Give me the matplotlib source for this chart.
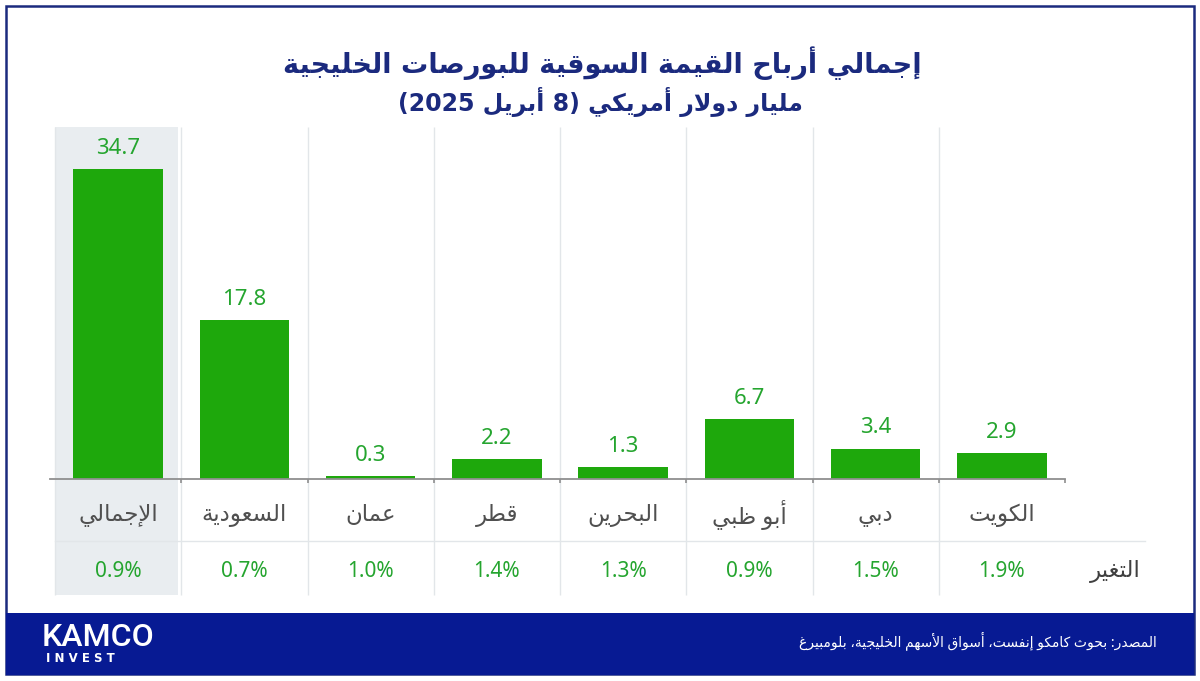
import re
import numpy as np
import matplotlib.pyplot as plt
from matplotlib.patches import Rectangle

# بيانات الرسم
countries = ["الإجمالي", "السعودية", "عمان", "قطر", "البحرين", "أبو ظبي", "دبي", "الكويت"]
profits = [34.7, 17.8, 0.3, 2.2, 1.3, 6.7, 3.4, 2.9]
changes = ["0.9%", "0.7%", "1.0%", "1.4%", "1.3%", "0.9%", "1.5%", "1.9%"]
title = "إجمالي أرباح القيمة السوقية للبورصات الخليجية"
subtitle = "مليار دولار أمريكي (8 أبريل 2025)"
change_label = "التغير"
source = "المصدر: بحوث كامكو إنفست، أسواق الأسهم الخليجية، بلومبيرغ"

# matplotlib neumí arabské tvary písmen ani směr zprava doleva -> ruční úprava
_forms = {}
for ch, base, n in [
    ("ء", 0xFE80, 1), ("آ", 0xFE81, 2), ("أ", 0xFE83, 2), ("ؤ", 0xFE85, 2),
    ("إ", 0xFE87, 2), ("ئ", 0xFE89, 4), ("ا", 0xFE8D, 2), ("ب", 0xFE8F, 4),
    ("ة", 0xFE93, 2), ("ت", 0xFE95, 4), ("ث", 0xFE99, 4), ("ج", 0xFE9D, 4),
    ("ح", 0xFEA1, 4), ("خ", 0xFEA5, 4), ("د", 0xFEA9, 2), ("ذ", 0xFEAB, 2),
    ("ر", 0xFEAD, 2), ("ز", 0xFEAF, 2), ("س", 0xFEB1, 4), ("ش", 0xFEB5, 4),
    ("ص", 0xFEB9, 4), ("ض", 0xFEBD, 4), ("ط", 0xFEC1, 4), ("ظ", 0xFEC5, 4),
    ("ع", 0xFEC9, 4), ("غ", 0xFECD, 4), ("ف", 0xFED1, 4), ("ق", 0xFED5, 4),
    ("ك", 0xFED9, 4), ("ل", 0xFEDD, 4), ("م", 0xFEE1, 4), ("ن", 0xFEE5, 4),
    ("ه", 0xFEE9, 4), ("و", 0xFEED, 2), ("ى", 0xFEEF, 2), ("ي", 0xFEF1, 4),
    ("\uFEF5", 0xFEF5, 2), ("\uFEF7", 0xFEF7, 2), ("\uFEF9", 0xFEF9, 2), ("\uFEFB", 0xFEFB, 2),
]:
    _forms[ch] = (base, n)
_lam_alef = {"آ": "\uFEF5", "أ": "\uFEF7", "إ": "\uFEF9", "ا": "\uFEFB"}


def shape(word):
    chars = []
    for c in word:
        if chars and chars[-1] == "ل" and c in _lam_alef:
            chars[-1] = _lam_alef[c]
        else:
            chars.append(c)
    out = []
    for i, c in enumerate(chars):
        if c not in _forms:
            out.append(c)
            continue
        base, n = _forms[c]
        prev = _forms.get(chars[i - 1]) if i > 0 else None
        nxt = _forms.get(chars[i + 1]) if i + 1 < len(chars) else None
        jp = n > 1 and prev is not None and prev[1] == 4
        jn = n == 4 and nxt is not None and nxt[1] > 1
        k = 3 if (jp and jn) else 2 if jn else 1 if jp else 0
        out.append(chr(base + k))
    return "".join(out)


def ar(text):
    words = []
    mirror = {"(": ")", ")": "("}
    for w in reversed(text.split(" ")):
        if re.search("[\u0600-\u06FF]", w):
            words.append(shape(w)[::-1])
        else:
            parts = re.findall(r"[0-9.]+|[^0-9.]", w)
            words.append("".join(mirror.get(p, p) for p in reversed(parts)))
    return " ".join(words)


navy = "#1b2a7e"
footer = "#071a93"
green = "#1ea80c"
label_green = "#25a52f"
grid = "#e2e6e9"
fonts = ["Noto Sans", "DejaVu Sans"]

fig = plt.figure(figsize=(12, 6.81), dpi=100)

# pozadí, rámeček, zápatí a nadpisy (souřadnice v pixelech)
bg = fig.add_axes([0, 0, 1, 1])
bg.set_xlim(0, 1200)
bg.set_ylim(681, 0)
bg.axis("off")
bg.add_patch(Rectangle((6, 6), 1188, 668, fill=False, ec=navy, lw=1.8))
bg.add_patch(Rectangle((6, 613), 1188, 62, fc=footer, ec="none"))
bg.text(602, 63, ar(title), ha="center", va="center", fontsize=19.5,
        fontweight="bold", color=navy, family="DejaVu Sans")
bg.text(600, 102, ar(subtitle), ha="center", va="center", fontsize=17,
        fontweight="bold", color=navy, family="DejaVu Sans")
bg.text(42, 637, "KAMCO", ha="left", va="center", fontsize=23, color="white",
        fontweight="medium", family=["Roboto", "DejaVu Sans"])
bg.text(46, 658, "I N V E S T", ha="left", va="center", fontsize=8.5,
        fontweight="bold", color="white", family="DejaVu Sans")
bg.text(1157, 641, ar(source), ha="right", va="center", fontsize=10,
        color="white", family=fonts)

# sloupcový graf
x = np.arange(len(countries))
ax = fig.add_axes([55 / 1200, 202 / 681, 1010 / 1200, 352 / 681])
ax.set_xlim(-0.5, 7.5)
ax.set_ylim(0, 39.4)
ax.axis("off")

ax.add_patch(Rectangle((-0.5, -13.0), 0.975, 52.4, fc="#e9edf0", ec="none",
                       clip_on=False, zorder=0))
ax.vlines(x - 0.5, -13.0, 39.4, color=grid, lw=1, clip_on=False, zorder=1)
ax.bar(x, profits, width=0.71, color=green, zorder=3)
ax.plot([-0.54, 7.5], [0, 0], color="#8f8f8f", lw=1.3, clip_on=False, zorder=4)
ax.vlines(x[1:] - 0.5, -0.5, 0, color="#8f8f8f", lw=1.2, clip_on=False, zorder=4)
ax.vlines([7.5], -0.5, 0, color="#8f8f8f", lw=1.2, clip_on=False, zorder=4)
ax.plot([-0.5, 8.13], [-6.94, -6.94], color=grid, lw=1, clip_on=False, zorder=1)

for xi, v, name, ch in zip(x, profits, countries, changes):
    ax.annotate(f"{v:.1f}", (xi, v), xytext=(0, 15), textcoords="offset points",
                ha="center", va="center", fontsize=16, color=label_green, family=fonts)
    ax.text(xi, -4.03, ar(name), ha="center", va="center", fontsize=16.5,
            color="#505050", family=fonts, clip_on=False)
    ax.text(xi, -10.3, ch, ha="center", va="center", fontsize=15,
            color=label_green, family=fonts, clip_on=False)
ax.text(7.9, -10.3, ar(change_label), ha="center", va="center", fontsize=16.5,
        color="#404040", family=fonts, clip_on=False)

fig.savefig("out.png", dpi=100, facecolor="white")
